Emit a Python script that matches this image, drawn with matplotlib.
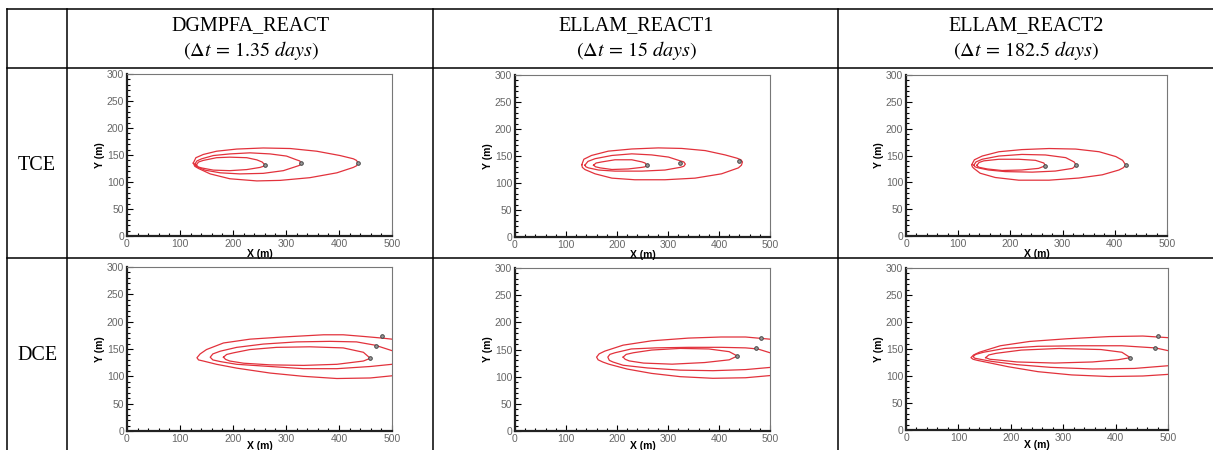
import matplotlib.pyplot as plt
from matplotlib.lines import Line2D
from matplotlib.ticker import MultipleLocator

plt.rcParams['font.family'] = 'Liberation Sans'
plt.rcParams['mathtext.fontset'] = 'stix'

# table text
methods = ['DGMPFA_REACT', 'ELLAM_REACT1', 'ELLAM_REACT2']
time_steps = ['1.35', '15', '182.5']
species = ['TCE', 'DCE']

# plume contours (x, y in m): outer, middle, inner
tce_dgmpfa = [
    [(125, 135), (130, 145), (144, 151), (169, 157), (207, 161), (257, 163), (308, 162), (358, 157),
     (402, 149), (427, 143), (433, 140), (436, 135), (433, 130), (427, 127), (396, 117), (345, 108),
     (289, 103), (245, 102), (194, 106), (157, 115), (135, 125), (128, 129)],
    [(128, 133), (132, 139), (141, 143), (163, 149), (194, 152), (232, 154), (270, 152), (301, 148),
     (320, 141), (326, 139), (328, 135), (326, 131), (320, 129), (295, 121), (257, 116), (213, 115),
     (176, 117), (147, 122), (135, 127), (130, 129)],
    [(131, 132), (135, 137), (144, 140), (169, 145), (194, 146), (226, 145), (245, 141), (255, 137),
     (260, 132), (257, 129), (251, 127), (226, 123), (194, 121), (163, 122), (141, 126), (134, 128)],
]
tce_ellam1 = [
    [(131, 134), (135, 144), (150, 151), (183, 159), (229, 163), (281, 165), (327, 164), (373, 160),
     (412, 152), (435, 146), (443, 143), (446, 139), (444, 133), (438, 128), (405, 117), (353, 109),
     (294, 106), (235, 106), (190, 109), (157, 117), (137, 125), (132, 129)],
    [(137, 133), (143, 140), (157, 145), (190, 151), (229, 154), (268, 152), (301, 148), (324, 141),
     (331, 139), (334, 135), (331, 131), (324, 129), (294, 124), (249, 122), (196, 122), (164, 124),
     (144, 128), (139, 130)],
    [(154, 133), (159, 137), (170, 139), (196, 143), (229, 143), (249, 139), (255, 137), (258, 133),
     (255, 130), (249, 129), (222, 126), (190, 125), (167, 128), (158, 130)],
]
tce_ellam2 = [
    [(126, 133), (131, 142), (146, 149), (178, 157), (222, 161), (274, 163), (325, 162), (370, 157),
     (402, 148), (415, 141), (421, 132), (416, 127), (408, 123), (376, 114), (331, 108), (274, 104),
     (216, 104), (171, 109), (142, 117), (130, 126), (127, 129)],
    [(130, 132), (134, 138), (146, 143), (178, 149), (222, 152), (267, 151), (306, 146), (322, 138),
     (326, 132), (319, 126), (286, 121), (242, 119), (190, 120), (158, 123), (138, 127), (132, 129)],
    [(136, 132), (140, 137), (149, 140), (178, 143), (216, 143), (248, 141), (264, 136), (267, 131),
     (254, 126), (222, 123), (184, 122), (155, 125), (140, 128), (137, 130)],
]
dce_dgmpfa = [
    [(500, 168), (481, 170), (446, 173), (408, 176), (371, 176), (295, 172), (232, 168), (182, 161),
     (150, 149), (138, 141), (132, 134), (135, 130), (144, 128), (169, 122), (207, 115), (270, 106),
     (333, 100), (396, 96), (459, 97), (500, 101)],
    [(500, 147), (468, 157), (433, 163), (383, 164), (320, 163), (257, 159), (207, 153), (176, 146),
     (162, 141), (157, 135), (162, 130), (176, 127), (207, 122), (270, 118), (333, 114), (396, 114),
     (459, 118), (500, 122)],
    [(182, 135), (188, 140), (201, 143), (232, 149), (282, 153), (345, 154), (408, 152), (446, 144),
     (459, 133), (446, 128), (396, 122), (333, 120), (270, 121), (220, 124), (194, 128), (186, 131)],
]
dce_ellam1 = [
    [(500, 169), (452, 173), (404, 173), (340, 171), (268, 166), (212, 158), (176, 147), (165, 142),
     (160, 136), (163, 131), (172, 127), (184, 123), (220, 114), (268, 106), (324, 100), (388, 97),
     (452, 98), (500, 102)],
    [(500, 144), (476, 151), (452, 153), (404, 154), (340, 154), (276, 153), (228, 151), (196, 144),
     (186, 141), (182, 136), (185, 130), (192, 127), (212, 121), (260, 116), (324, 112), (388, 111),
     (452, 113), (500, 117)],
    [(212, 136), (218, 141), (232, 144), (268, 149), (324, 152), (380, 151), (420, 146), (436, 138),
     (420, 131), (372, 126), (308, 123), (252, 125), (224, 129), (216, 132)],
]
dce_ellam2 = [
    [(500, 171), (452, 174), (388, 173), (308, 169), (236, 164), (180, 156), (140, 144), (129, 139),
     (124, 134), (128, 131), (136, 129), (156, 125), (196, 117), (252, 108), (316, 102), (388, 99),
     (452, 100), (500, 103)],
    [(500, 147), (476, 152), (412, 156), (332, 156), (252, 155), (188, 151), (148, 144), (133, 140),
     (128, 136), (131, 133), (136, 132), (164, 127), (212, 121), (276, 116), (356, 113), (436, 114),
     (500, 119)],
    [(152, 134), (158, 139), (172, 142), (220, 148), (292, 151), (372, 149), (412, 144), (428, 134),
     (404, 130), (356, 126), (284, 124), (212, 126), (172, 130), (160, 131)],
]

# contour label spots
tce_dgmpfa_labels = [(260, 132), (328, 135), (436, 135)]
tce_ellam1_labels = [(258, 133), (324, 137), (440, 140)]
tce_ellam2_labels = [(267, 131), (326, 132), (421, 132)]
dce_dgmpfa_labels = [(481, 174), (469, 156), (459, 133)]
dce_ellam1_labels = [(482, 172), (472, 152), (436, 138)]
dce_ellam2_labels = [(480, 174), (476, 152), (428, 133)]

panels = [
    [(tce_dgmpfa, tce_dgmpfa_labels), (tce_ellam1, tce_ellam1_labels), (tce_ellam2, tce_ellam2_labels)],
    [(dce_dgmpfa, dce_dgmpfa_labels), (dce_ellam1, dce_ellam1_labels), (dce_ellam2, dce_ellam2_labels)],
]
closed = [[True, True, True], [False, False, True]]

W, H = 1213, 450
fig = plt.figure(figsize=(W / 100, H / 100), dpi=100)


def fx(px):
    return px / W


def fy(py):
    return 1 - py / H


# table grid
for y in [9, 68, 258]:
    fig.add_artist(Line2D([fx(7), 1], [fy(y), fy(y)], color='black', lw=1.1))
for x in [7, 67, 433, 838]:
    fig.add_artist(Line2D([fx(x), fx(x)], [fy(9), 0], color='black', lw=1.1))

col_centers = [251, 636, 1026]
for c, m, dt in zip(col_centers, methods, time_steps):
    fig.text(fx(c), fy(26), m, ha='center', va='center', fontsize=14.5, family='Liberation Serif')
    fig.text(fx(c), fy(50), r'$\left(\Delta t\,=\,%s\ days\right)$' % dt, ha='center', va='center',
             fontsize=14.5)
for name, yc in zip(species, [165, 355]):
    fig.text(fx(37), fy(yc), name, ha='center', va='center', fontsize=14.5, family='Liberation Serif')

# axes boxes in pixels: left, right, top, bottom
boxes = [
    [(127, 392, 74, 236), (515, 770, 75, 237), (906, 1167, 75, 236)],
    [(127, 392, 267, 431), (515, 770, 268, 431), (906, 1168, 268, 430)],
]

for r in range(2):
    for c in range(3):
        l, rt, t, b = boxes[r][c]
        ax = fig.add_axes([fx(l), fy(b), (rt - l) / W, (b - t) / H])
        contours, labels = panels[r][c]
        for pts, cl in zip(contours, closed[r]):
            xs = [p[0] for p in pts]
            ys = [p[1] for p in pts]
            if cl:
                xs.append(xs[0])
                ys.append(ys[0])
            ax.plot(xs, ys, color='#e2323c', lw=0.9, solid_joinstyle='round')
        ax.plot([p[0] for p in labels], [p[1] for p in labels], 'o', ms=2.6, mfc='#999999',
                mec='#444444', mew=0.7, ls='none')

        ax.set_xlim(0, 500)
        ax.set_ylim(0, 300)
        ax.xaxis.set_major_locator(MultipleLocator(100))
        ax.xaxis.set_minor_locator(MultipleLocator(20))
        ax.yaxis.set_major_locator(MultipleLocator(50))
        ax.yaxis.set_minor_locator(MultipleLocator(10))
        ax.tick_params(which='both', direction='in', top=False, right=False, labelsize=7.5,
                       labelcolor='#666666', pad=2, width=0.8)
        ax.tick_params(which='major', length=4)
        ax.tick_params(which='minor', length=2)
        for s in ['left', 'bottom']:
            ax.spines[s].set_linewidth(1.6)
            ax.spines[s].set_color('#222222')
        for s in ['top', 'right']:
            ax.spines[s].set_linewidth(0.8)
            ax.spines[s].set_color('#777777')
        ax.set_xlabel('X (m)', fontsize=7.5, fontweight='bold', labelpad=0 if r == 0 else -2)
        ax.set_ylabel('Y (m)', fontsize=7.5, fontweight='bold', labelpad=1)

fig.savefig('out.png', dpi=100)
